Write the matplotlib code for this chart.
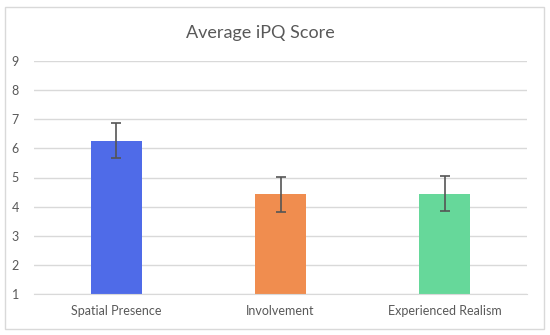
import matplotlib
matplotlib.use("Agg")
import matplotlib.pyplot as plt
from matplotlib.patches import Rectangle

# Data
categories = ["Spatial Presence", "Involvement", "Experienced Realism"]
scores = [6.26, 4.42, 4.45]
errors = [0.6, 0.6, 0.6]
colors = ["#4F6BE8", "#F08D4F", "#66D89A"]

plt.rcParams['font.family'] = ['Lato', 'DejaVu Sans']

fig = plt.figure(figsize=(5.5, 3.35), dpi=100, facecolor='w')
fig.patches.append(Rectangle((5/550, 6/335), 539/550, 322/335, transform=fig.transFigure,
                             fill=False, edgecolor='#d9d9d9', linewidth=1.0))

ax = fig.add_axes([34/550, 41/335, 493/550, 233/335])
x = range(len(categories))
ax.bar(x, [s - 1 for s in scores], bottom=1, width=0.31, color=colors, zorder=2)
ax.errorbar(x, scores, yerr=errors, fmt='none', ecolor='#555555', elinewidth=1.2,
            capsize=3.5, capthick=1.2, zorder=3)

ax.set_xlim(-0.5, 2.5)
ax.set_ylim(1, 9)
ax.set_yticks(range(1, 10))
ax.set_xticks(list(x))
ax.set_xticklabels(categories)
ax.tick_params(axis='both', length=0, labelsize=9, colors='#595959', pad=8)
ax.tick_params(axis='y', pad=11)
ax.yaxis.grid(True, color='#d9d9d9', linewidth=1.0, zorder=0)
for s in ax.spines.values():
    s.set_visible(False)
ax.spines['bottom'].set_visible(True)
ax.spines['bottom'].set_color('#d9d9d9')

fig.text(260/550, 1 - 33/335, "Average iPQ Score", ha='center', va='center',
         fontsize=13, color='#595959')

fig.savefig("out.png", dpi=100)
